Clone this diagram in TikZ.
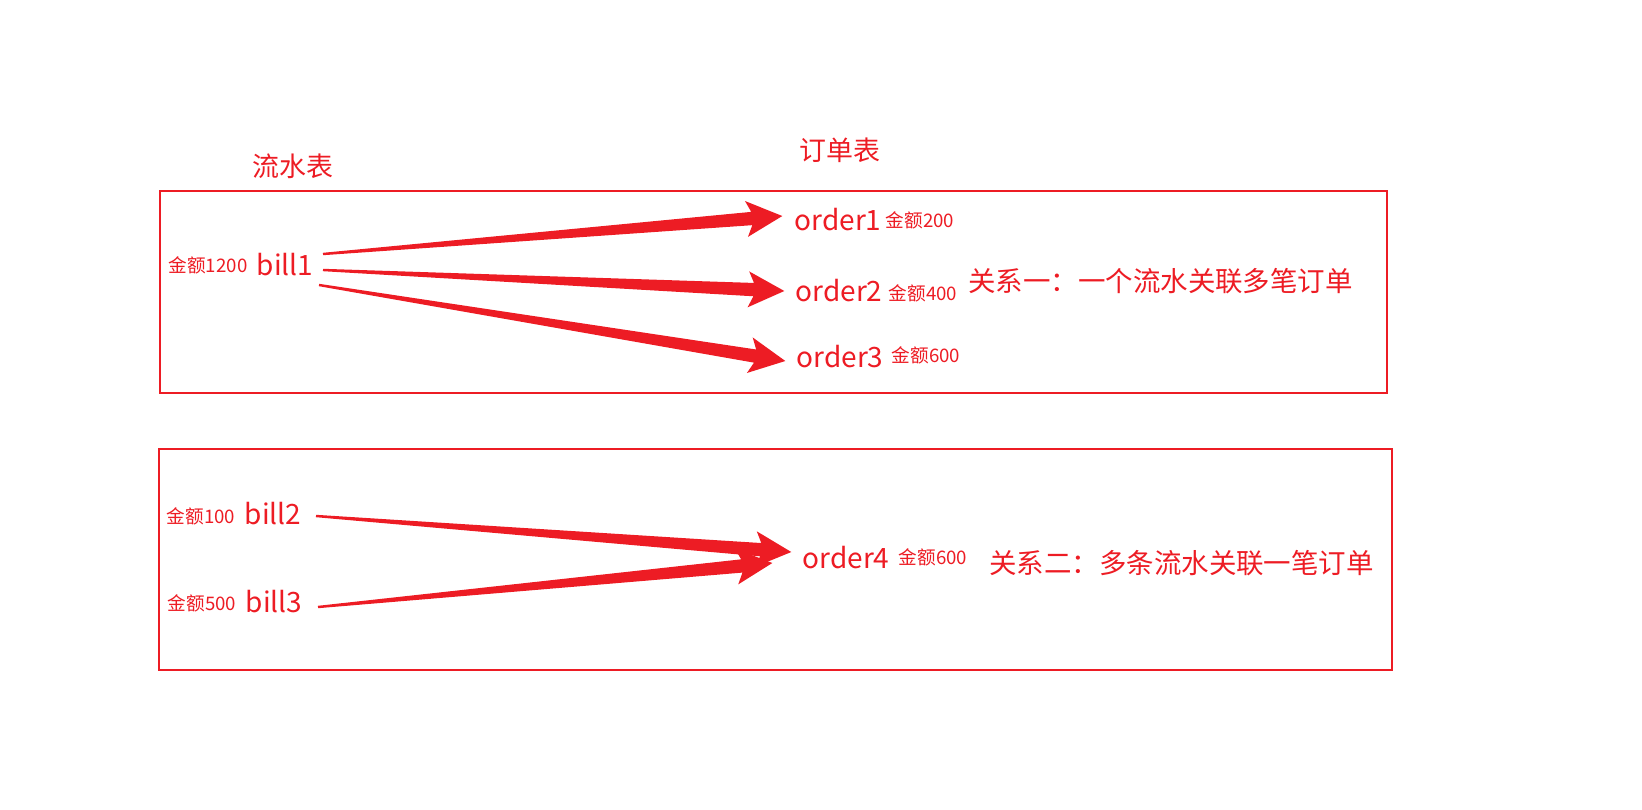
\documentclass[tikz,border=0pt]{standalone}
\usepackage{fontspec}
\setmainfont{Noto Sans CJK SC}
\usetikzlibrary{calc}
\definecolor{rd}{HTML}{ED1C24}
\tikzset{
  frame/.style={draw=rd, line width=1.6pt},
  big/.style={text=rd, inner sep=0pt, font=\fontsize{21}{24}\selectfont},
  small/.style={text=rd, inner sep=0pt, font=\fontsize{14}{16}\selectfont},
  title/.style={text=rd, inner sep=0pt, font=\fontsize{20.2}{24}\selectfont},
  rel/.style={text=rd, inner sep=0pt, anchor=west, font=\fontsize{20.6}{24}\selectfont},
  arrowfill/.style={fill=rd, draw=none}
}
\newcommand{\fatarrow}[2]{%
  \coordinate (hb) at ($(#2)!23pt!(#1)$);
  \coordinate (hbb) at ($(#2)!27pt!(#1)$);
  \fill[arrowfill] ($(#1)!0.9pt!90:(#2)$) -- ($(hb)!5pt!-90:(#1)$) -- ($(hbb)!13.5pt!-90:(#1)$) -- (#2)
    -- ($(hbb)!13.5pt!90:(#1)$) -- ($(hb)!5pt!90:(#1)$) -- ($(#1)!0.9pt!-90:(#2)$) -- cycle;}
\begin{document}
\begin{tikzpicture}[x=0.75pt,y=-0.75pt]
\useasboundingbox (0,0) rectangle (1642,810);
% frames
\draw[frame] (160,191) rectangle (1387,393);
\draw[frame] (159,449) rectangle (1392,670);
% titles
\node[title] (t1) at (293,166) {流水表};
\node[title] (t2) at (840,150) {订单表};
% group 1
\node[small] (m1) at (208,265) {金额1200};
\node[big] (bill1) at (285,265) {bill1};
\node[big] (o1) at (838,220) {order1};
\node[small] (m2) at (920,220) {金额200};
\node[big] (o2) at (839,291) {order2};
\node[small] (m3) at (923,293) {金额400};
\node[big] (o3) at (840,357) {order3};
\node[small] (m4) at (926,355) {金额600};
\node[rel] (r1) at (968,281) {关系一：一个流水关联多笔订单};
% group 2
\node[small] (m5) at (201,516) {金额100};
\node[big] (bill2) at (273,514) {bill2};
\node[small] (m6) at (202,603) {金额500};
\node[big] (bill3) at (274,602) {bill3};
\node[big] (o4) at (846,558) {order4};
\node[small] (m7) at (933,557) {金额600};
\node[rel] (r2) at (989,563) {关系二：多条流水关联一笔订单};
% arrow end points
\coordinate (a1s) at (323,254);
\coordinate (a1t) at ($(o1.west)+(-12,-4)$);
\coordinate (a2s) at (323,270);
\coordinate (a2t) at ($(o2.west)+(-11,0)$);
\coordinate (a3s) at (319,285);
\coordinate (a3t) at ($(o3.west)+(-11,4)$);
\coordinate (a4s) at (316,516);
\coordinate (a4t) at ($(o4.west)+(-11,-6)$);
\coordinate (a5s) at (318,607);
\coordinate (a5t) at ($(o4.west)+(-30,5)$);
\fatarrow{a1s}{a1t}
\fatarrow{a2s}{a2t}
\fatarrow{a3s}{a3t}
\fatarrow{a4s}{a4t}
\fatarrow{a5s}{a5t}
\end{tikzpicture}
\end{document}
